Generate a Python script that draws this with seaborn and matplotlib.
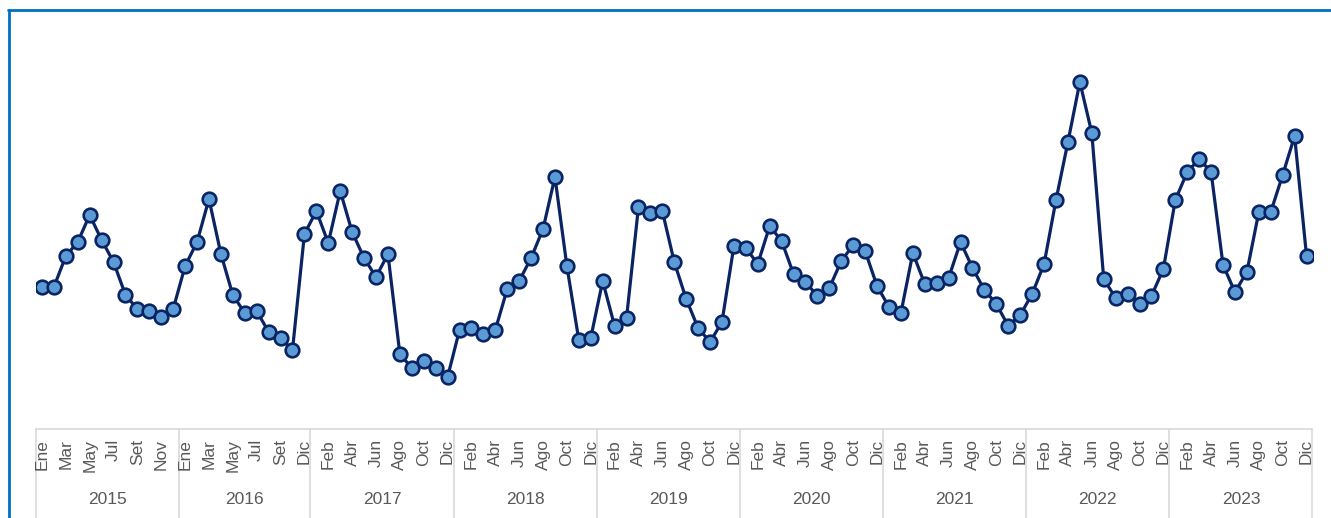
import matplotlib
matplotlib.use("Agg")
import matplotlib.pyplot as plt
import matplotlib.transforms as mtransforms
from matplotlib.lines import Line2D
import seaborn as sns
import pandas as pd

# ---- data ----
years = [2015, 2016, 2017, 2018, 2019, 2020, 2021, 2022, 2023]
month_names = ["Ene", "Feb", "Mar", "Abr", "May", "Jun", "Jul", "Ago", "Set", "Oct", "Nov", "Dic"]
months_2016 = ["Ene", "Feb", "Mar", "Abr", "May", "Jun", "Jul", "Ago", "Set", "Oct", "Dic"]

values_2015 = [138, 138, 169, 183, 210, 185, 163, 130, 116, 114, 108, 116]
values_2016 = [159, 183, 226, 171, 130, 112, 114, 93, 87, 75, 191]
values_2017 = [214, 182, 234, 193, 167, 148, 171, 71, 57, 64, 57, 48]
values_2018 = [95, 97, 91, 95, 136, 144, 167, 196, 248, 159, 85, 87]
values_2019 = [144, 99, 107, 218, 212, 214, 163, 126, 97, 83, 103, 179]
values_2020 = [177, 161, 199, 184, 151, 143, 129, 137, 164, 180, 174, 139]
values_2021 = [118, 112, 172, 141, 142, 147, 183, 157, 135, 121, 99, 110]
values_2022 = [131, 161, 225, 283, 343, 292, 146, 127, 131, 121, 129, 156]
values_2023 = [225, 253, 266, 253, 160, 133, 153, 213, 213, 250, 289, 169]

series = {
    2015: (month_names, values_2015),
    2016: (months_2016, values_2016),
    2017: (month_names, values_2017),
    2018: (month_names, values_2018),
    2019: (month_names, values_2019),
    2020: (month_names, values_2020),
    2021: (month_names, values_2021),
    2022: (month_names, values_2022),
    2023: (month_names, values_2023),
}

rows = []
for y in years:
    ms, vs = series[y]
    for m, v in zip(ms, vs):
        rows.append({"year": y, "month": m, "value": v})
df = pd.DataFrame(rows)
df["idx"] = range(len(df))
n = len(df)

# ---- style ----
sns.set_theme(style="white")
plt.rcParams["font.family"] = ["Liberation Sans", "DejaVu Sans"]

W, H, DPI = 1331, 518, 100
fig = plt.figure(figsize=(W / DPI, H / DPI), dpi=DPI)
fig.patch.set_facecolor("white")

ax_left_px, ax_right_px = 36.0, 1312.5
ax_top_px, ax_bot_px = 25.0, 425.0
ax = fig.add_axes([ax_left_px / W, 1 - ax_bot_px / H,
                   (ax_right_px - ax_left_px) / W, (ax_bot_px - ax_top_px) / H])

navy = "#0A2463"
face = "#5B9BD5"
sns.lineplot(data=df, x="idx", y="value", ax=ax, color=navy, linewidth=2.3,
             marker="o", markersize=9.8, markerfacecolor=face,
             markeredgecolor=navy, markeredgewidth=1.9, legend=False)

ax.set_xlim(-0.5, n - 0.5)
ax.set_ylim(0, 400)
for s in ax.spines.values():
    s.set_visible(False)
ax.set_xticks([])
ax.set_yticks([])
ax.set_xlabel("")
ax.set_ylabel("")
ax.set_facecolor("none")

# ---- category axis (two-level) ----
trans = mtransforms.blended_transform_factory(ax.transData, ax.transAxes)
grid_c = "#D9D9D9"
label_c = "#595959"
y_line = (ax_bot_px - 429) / (ax_bot_px - ax_top_px)
y_bottom = -0.3
ax.plot([-0.5, n - 0.5], [y_line, y_line], transform=trans, color=grid_c,
        lw=1.2, clip_on=False)

# month labels every other category
for i, m in zip(df["idx"], df["month"]):
    if i % 2 == 0:
        ax.text(i, (ax_bot_px - 439) / 400, m, transform=trans, rotation=90,
                ha="center", va="top", fontsize=12.5, color=label_c)

# year separators and labels
start = 0
bounds = [-0.5]
for y in years:
    cnt = int((df["year"] == y).sum())
    end = start + cnt
    bounds.append(end - 0.5)
    ax.text((start + end - 1) / 2, (ax_bot_px - 500) / 400, str(y), transform=trans,
            ha="center", va="center", fontsize=12.5, color=label_c)
    start = end
for b in bounds:
    ax.plot([b, b], [y_line, y_bottom], transform=trans, color=grid_c,
            lw=1.2, clip_on=False)

# ---- outer blue frame (partially cropped) ----
border_c = "#0070C0"
fig.add_artist(Line2D([8 / W, 1.0], [1 - 10 / H, 1 - 10 / H], transform=fig.transFigure,
                      color=border_c, lw=2.0))
fig.add_artist(Line2D([8.7 / W, 8.7 / W], [0, 1 - 10 / H], transform=fig.transFigure,
                      color=border_c, lw=2.0))

fig.savefig("out.png", dpi=DPI)
